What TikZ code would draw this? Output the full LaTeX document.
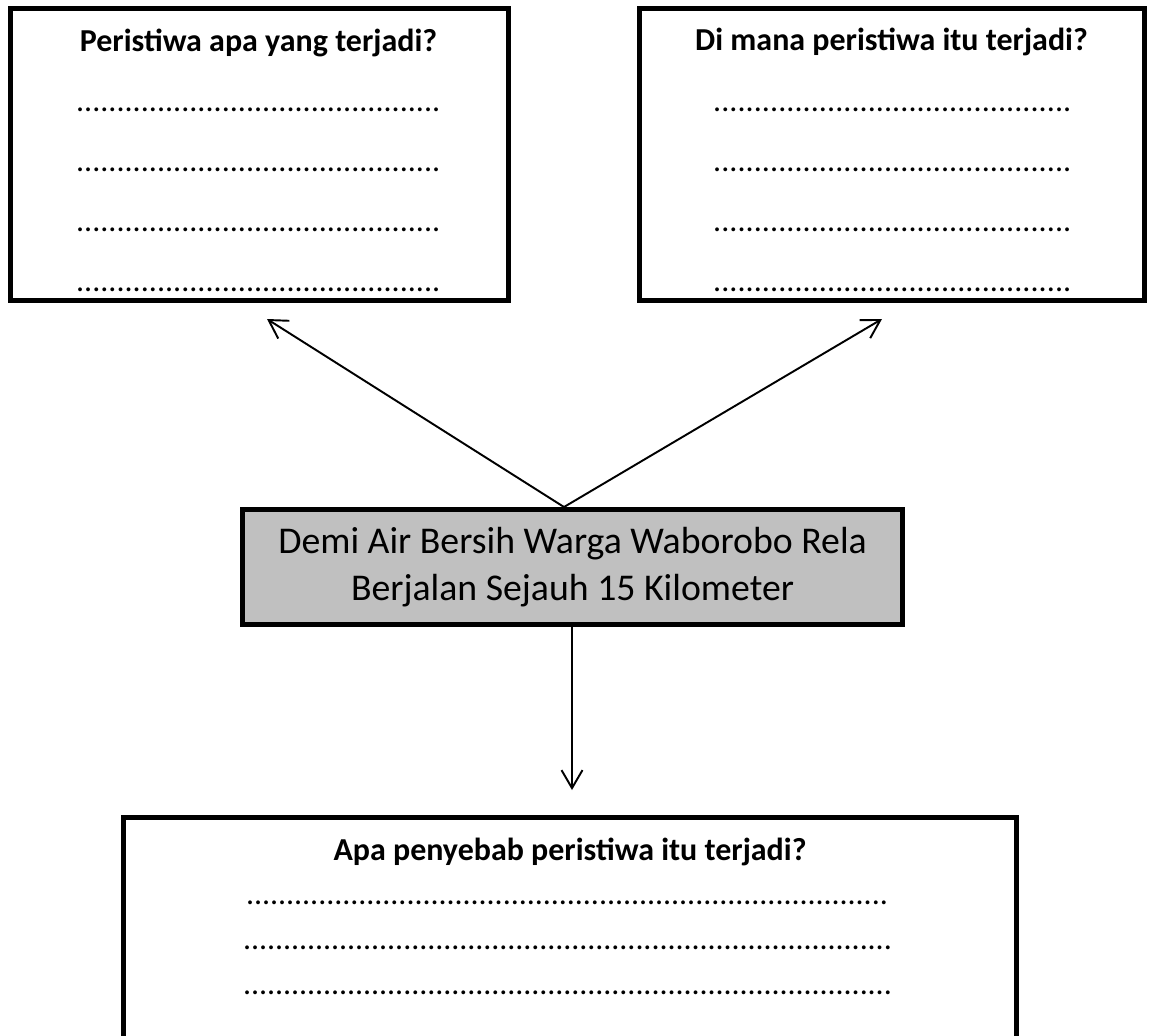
\documentclass[tikz,border=0pt]{standalone}
\usepackage{fontspec}
\setmainfont{Carlito}
\usetikzlibrary{arrows.meta}
\definecolor{boxgray}{RGB}{192,192,192}
\newcommand{\dotrow}[1]{\hbox to #1{\xleaders\hbox to 0.16cm{\hss.\hss}\hfill}}

\begin{document}
\begin{tikzpicture}[x=0.02cm, y=-0.02cm,
    qbox/.style={draw, line width=2.85pt, inner sep=0pt, fill=white},
    topic/.style={qbox, fill=boxgray, align=center, font=\fontsize{21.5}{27}\selectfont},
    title/.style={anchor=base, font=\fontsize{18.2}{22}\selectfont\bfseries},
    blank/.style={anchor=base, inner sep=0pt, font=\fontsize{18.2}{22}\selectfont},
    link/.style={line width=1.1pt, -{Straight Barb[length=0.36cm,width=0.42cm]}}]
  \useasboundingbox (0,0) rectangle (1149,1035);
  % boxes
  \node[qbox, minimum width=9.96cm, minimum height=5.84cm] (what) at (259.5,154.5) {};
  \node[qbox, minimum width=10.1cm, minimum height=5.84cm] (where) at (892,154.5) {};
  \node[topic, minimum width=13.2cm, minimum height=2.3cm] (news) at (572.5,567)
    {Demi Air Bersih Warga Waborobo Rela\\Berjalan Sejauh 15 Kilometer};
  \node[qbox, minimum width=17.86cm, minimum height=5.65cm] (why) at (570,958.75) {};
  % questions
  \node[title] (whatq) at (258.5,51) {Peristiwa apa yang terjadi?};
  \node[title] (whereq) at (891.5,50) {Di mana peristiwa itu terjadi?};
  \node[title] (whyq) at (570,860) {Apa penyebab peristiwa itu terjadi?};
  % answer lines
  \foreach \y in {110,170,230,290} {
    \node[blank] (whatdots\y) at (258.5,\y+1.5) {\dotrow{7.3cm}};
    \node[blank] (wheredots\y) at (892.5,\y+1.5) {\dotrow{7.18cm}};
  }
  \node[blank] (whydots903) at (567.5,904.5) {\dotrow{12.86cm}};
  \foreach \y in {948,993} {
    \node[blank] (whydots\y) at (568,\y+1.5) {\dotrow{13cm}};
  }
  % arrows
  \coordinate (whattip) at (267,319);
  \coordinate (wheretip) at (882,319);
  \coordinate (whytip) at (572,790);
  \draw[link] ([xshift=-0.17cm]news.north) -- (whattip);
  \draw[link] ([xshift=-0.17cm]news.north) -- (wheretip);
  \draw[link] (news.south -| whytip) -- (whytip);
\end{tikzpicture}
\end{document}
